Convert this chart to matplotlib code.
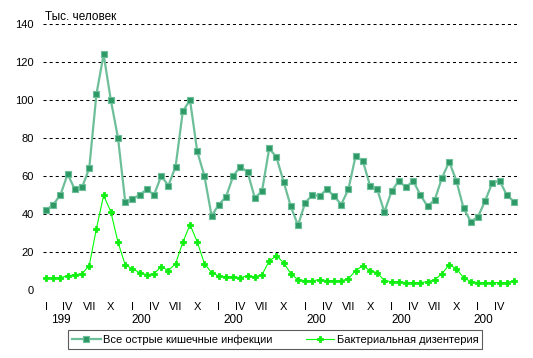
import matplotlib
matplotlib.use("Agg")
import matplotlib.pyplot as plt
import numpy as np

plt.rcParams['font.family'] = ['Liberation Sans', 'DejaVu Sans']
plt.rcParams['lines.scale_dashes'] = False

# Monthly data, 66 months
all_acute = [42, 45, 50, 61, 53, 54, 64, 103, 124, 100, 80, 46.5,
             48, 50, 53, 50, 60, 55, 65, 94, 100, 73, 60, 39,
             45, 49, 60, 65, 62, 48.5, 52, 74.5, 70, 57, 44, 34,
             46, 50, 49.5, 53, 49.5, 45, 53, 70.5, 68, 55, 53, 41,
             52, 57.5, 54, 57.5, 50, 44, 47.5, 59, 67.5, 57.5, 43, 36,
             38.5, 47, 56.5, 57.5, 50, 46.5]
dysentery = [6.5, 6.3, 6.5, 7.5, 8, 8.6, 12.8, 32.3, 49.8, 41.2, 25.1, 13.2,
             11.2, 9.1, 8, 8.6, 12.3, 10.2, 13.9, 25.1, 34.4, 25.4, 13.9, 9.1,
             7.4, 7, 7, 6.5, 7.5, 7, 8, 15.3, 18, 14.4, 8.6, 5.4,
             4.9, 4.9, 5.4, 5, 4.9, 4.9, 5.9, 10.2, 12.8, 10.2, 9.1, 4.9,
             4.4, 4.4, 3.9, 3.9, 3.9, 4.4, 5.4, 8.6, 13.3, 11.2, 6.5, 4.4,
             3.9, 3.9, 3.9, 3.9, 3.9, 4.9]
month_labels = ['I', 'IV', 'VII', 'X']
year_labels = ['199', '200', '200', '200', '200', '200']
year_label_pos = [2.1, 13.3, 26.0, 37.5, 49.4, 60.8]
series_names = ['Все острые кишечные инфекции', 'Бактериальная дизентерия']
y_label = 'Тыс. человек'

W, H = 533, 358
fig = plt.figure(figsize=(W / 100, H / 100), dpi=100)
ax = fig.add_axes([43 / W, 1 - 290 / H, (517 - 43) / W, (290 - 24) / H])

x = np.arange(len(all_acute))
l1, = ax.plot(x, all_acute, color='#6dbf99', lw=1.6, marker='s', markersize=4.6,
              markerfacecolor='#2e9966', markeredgecolor='#6dbf99', markeredgewidth=0.8,
              clip_on=False, zorder=3)
l2, = ax.plot(x, dysentery, color='#00ff00', lw=0.8, marker='P', markersize=4.8,
              markerfacecolor='#11ee11', markeredgecolor='#11ee11', markeredgewidth=0.6,
              clip_on=False, zorder=3)

ax.set_xlim(-0.42, 65.42)
ax.set_ylim(0, 140)
ax.set_yticks(np.arange(0, 141, 20))
ax.yaxis.grid(True, color='black', linestyle=(0, (2.2, 2.2)), lw=0.75)
ax.set_axisbelow(True)
for s in ax.spines.values():
    s.set_visible(False)
ax.tick_params(axis='y', length=0, pad=6.5, labelsize=8)
ax.set_xticks([])

for i in range(0, len(all_acute), 3):
    ax.annotate(month_labels[(i // 3) % 4], xy=(i, 0), xycoords=('data', 'axes fraction'),
                xytext=(0, -12.3), textcoords='offset points', ha='center', va='center',
                fontsize=8)
for p, lab in zip(year_label_pos, year_labels):
    ax.annotate(lab, xy=(p, 0), xycoords=('data', 'axes fraction'),
                xytext=(0, -21.5), textcoords='offset points', ha='center', va='center',
                fontsize=8.5)

fig.text(45 / W, 1 - 17 / H, y_label, ha='left', va='center', fontsize=8.5)

leg = fig.legend([l1, l2], series_names, loc='center', ncol=2,
                 bbox_to_anchor=(275 / W, 1 - 339.5 / H), fontsize=8,
                 frameon=True, fancybox=False, edgecolor='#333333',
                 handlelength=2.6, handletextpad=0.2, columnspacing=3.0,
                 borderpad=0.35, markerscale=0.8)
leg.get_frame().set_linewidth(0.8)

fig.savefig('out.png', dpi=100)
